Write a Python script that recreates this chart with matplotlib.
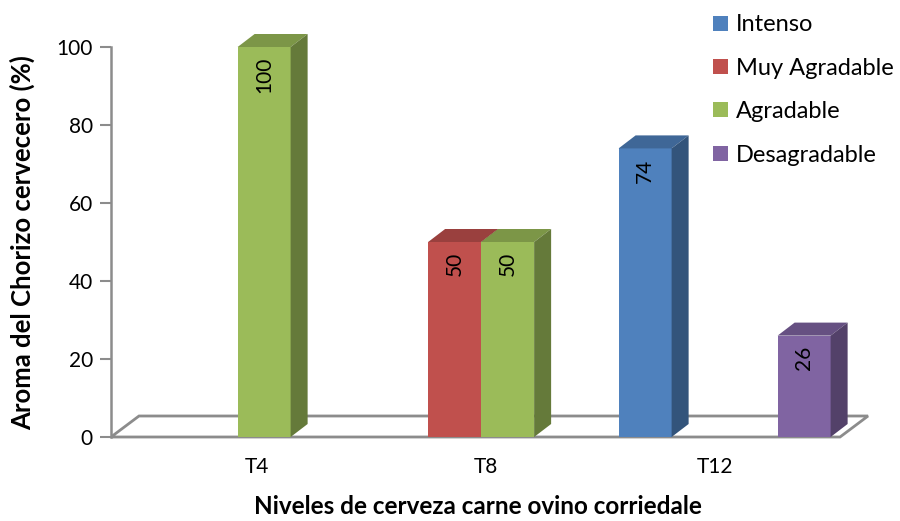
import numpy as np
import matplotlib.pyplot as plt
from matplotlib.patches import Polygon, Patch
from matplotlib.colors import to_rgb

plt.rcParams['font.family'] = ['Lato', 'DejaVu Sans']

# Datos
categorias = ['T4', 'T8', 'T12']
series = ['Intenso', 'Muy Agradable', 'Agradable', 'Desagradable']
intenso = [0, 0, 74]
muy_agradable = [0, 50, 0]
agradable = [100, 50, 0]
desagradable = [0, 0, 26]
valores = [intenso, muy_agradable, agradable, desagradable]
colores = ['#4F81BD', '#C0504D', '#9BBB59', '#8064A2']


def oscurecer(c, f):
    r, g, b = to_rgb(c)
    return (r * f, g * f, b * f)


fig = plt.figure(figsize=(9, 5.21), dpi=100)
ax = fig.add_axes([111 / 900, 71 / 521, 779 / 900, 440 / 521])

px_x = 243.5   # pixeles por categoria
px_y = 3.9     # pixeles por unidad (%)
ax.set_xlim(-0.52, -0.52 + 779 / px_x)
ax.set_ylim(-13 / px_y, 427 / px_y)

w = 53 / px_x
dx, dy = 17 / px_x, 13 / px_y          # profundidad de las barras
fdx, fdy = 28 / px_x, 21 / px_y        # profundidad del piso
x_fin = 2.474

# piso 3D
piso = Polygon([(-0.52, 0), (x_fin, 0), (x_fin + fdx, fdy), (-0.52 + fdx, fdy)],
               closed=True, facecolor='white', edgecolor='#8c8c8c', lw=2, zorder=1)
ax.add_patch(piso)

x = np.arange(len(categorias))
for s, (nombre, vals, col) in enumerate(zip(series, valores, colores)):
    izq = x - 2 * w + s * w
    z = 3 + s
    ax.bar(izq, vals, width=w, align='edge', color=col, edgecolor='none', zorder=z)
    for x0, v in zip(izq, vals):
        if v == 0:
            continue
        tapa = [(x0, v), (x0 + w, v), (x0 + w + dx, v + dy), (x0 + dx, v + dy)]
        lado = [(x0 + w, 0), (x0 + w + dx, dy), (x0 + w + dx, v + dy), (x0 + w, v)]
        ax.add_patch(Polygon(tapa, closed=True, facecolor=oscurecer(col, 0.8),
                             edgecolor='none', zorder=z))
        ax.add_patch(Polygon(lado, closed=True, facecolor=oscurecer(col, 0.65),
                             edgecolor='none', zorder=z))
        ax.text(x0 + w / 2, v - 10 / px_y, f'{v}', rotation=90, ha='center', va='top',
                fontsize=15, color='black', zorder=10)

# ejes
for lado in ['top', 'right', 'bottom']:
    ax.spines[lado].set_visible(False)
ax.spines['left'].set_color('#8c8c8c')
ax.spines['left'].set_linewidth(1.8)
ax.spines['left'].set_bounds(0, 100)
ax.set_yticks(np.arange(0, 101, 20))
ax.tick_params(axis='y', direction='out', length=8, width=1.5, color='#8c8c8c',
               labelsize=15, pad=5)

# etiquetas de categoria (comprimidas por la perspectiva)
ax.set_xticks(1 + (x - 1) * 0.94 + 0.02)
ax.set_xticklabels(categorias)
ax.tick_params(axis='x', length=0, labelsize=15, pad=5)

fig.text(478 / 900, 1 - 507 / 521, 'Niveles de cerveza carne ovino corriedale',
         ha='center', va='center', fontsize=17.5, fontweight='bold')
fig.text(22 / 900, 1 - 243 / 521, 'Aroma del Chorizo cervecero (%)',
         ha='center', va='center', rotation=90, fontsize=18.5, fontweight='bold')

handles = [Patch(facecolor=c, edgecolor='none') for c in colores]
fig.legend(handles, series, loc='upper left', bbox_to_anchor=(704 / 900, 1 - 5 / 521),
           frameon=False, fontsize=17, handlelength=0.6, handleheight=0.6,
           handletextpad=0.35, labelspacing=0.95, borderaxespad=0)

fig.savefig('out.png', dpi=100)
